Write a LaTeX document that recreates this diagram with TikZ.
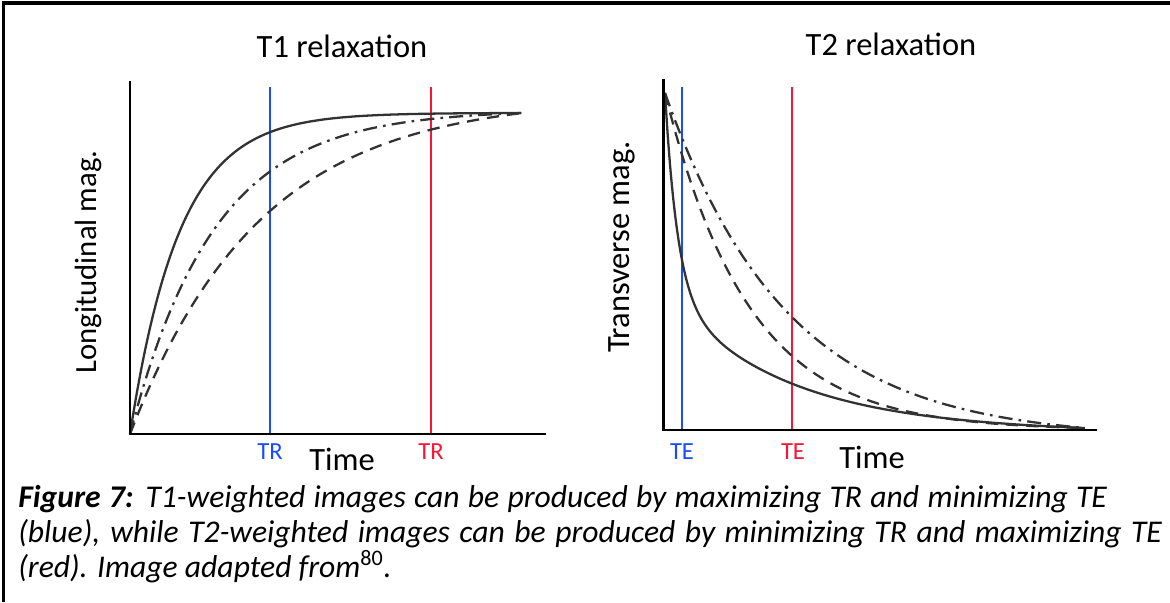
\documentclass[tikz,border=0pt]{standalone}
\usepackage{fontspec}
\setmainfont{Carlito}
\usetikzlibrary{positioning}

\definecolor{trblue}{RGB}{25,75,255}
\definecolor{trred}{RGB}{250,20,55}
\definecolor{curvegray}{RGB}{50,50,50}

\begin{document}
\begin{tikzpicture}[x=0.02cm,y=-0.02cm,
    axis/.style={line width=1.7pt,black,line cap=rect},
    timeline/.style={line width=1.4pt},
    relax/.style={line width=1.3pt,curvegray,line join=round},
    dashcurve/.style={relax,dash pattern=on 7pt off 4.5pt},
    dotcurve/.style={relax,dash pattern=on 8pt off 3.5pt on 1.5pt off 3.5pt},
    heading/.style={font=\fontsize{18.5}{20}\selectfont,anchor=base},
    axlabel/.style={font=\fontsize{18.5}{20}\selectfont},
    ticklabel/.style={font=\fontsize{14}{16}\selectfont,anchor=base},
    captionline/.style={font=\fontsize{18}{22}\selectfont\itshape,anchor=base west,inner sep=0pt}]
  \useasboundingbox (0,0) rectangle (1170,602);
  % frame (top and left only)
  \draw[line width=2.2pt] (3.5,602) -- (3.5,3) -- (1170,3);

  % ---- T1 relaxation ----
  \coordinate (o1) at (130,434);
  \coordinate (y1) at (130,82);
  \coordinate (x1) at (545,434);
  \node[heading] (t1) at (342,57) {T1 relaxation};
  \draw[timeline,trblue] (270,87) coordinate (tr1) -- (tr1 |- o1);
  \draw[timeline,trred] (431,87) coordinate (tr2) -- (tr2 |- o1);
  \draw[relax] plot[domain=0:1,samples=120,smooth]
    ({130+392*\x},{434-321*(1-exp(-\x/0.127))/(1-exp(-1/0.127))});
  \draw[dotcurve] plot[domain=0:1,samples=120,smooth]
    ({130+392*\x},{434-321*(1-exp(-\x/0.215))/(1-exp(-1/0.215))});
  \draw[dashcurve] plot[domain=0:1,samples=120,smooth]
    ({130+392*\x},{434-321*(1-exp(-\x/0.33))/(1-exp(-1/0.33))});
  \draw[axis] (y1) -- (o1) -- (x1);
  \node[ticklabel,trblue] (trb) at (270,459) {TR};
  \node[ticklabel,trred] (trr) at (431,459) {TR};
  \node[axlabel,anchor=base] (time1) at (342,470) {Time};
  \node[axlabel,rotate=90,font=\fontsize{17.5}{20}\selectfont] (long) at (88,262) {Longitudinal mag.};

  % ---- T2 relaxation ----
  \coordinate (o2) at (663,430);
  \coordinate (y2) at (663,80);
  \coordinate (x2) at (1095,430);
  \node[heading] (t2) at (891,55) {T2 relaxation};
  \draw[timeline,trblue] (682,87) coordinate (te1) -- (te1 |- o2);
  \draw[timeline,trred] (792,87) coordinate (te2) -- (te2 |- o2);
  \draw[relax] plot[domain=0:1,samples=160,smooth]
    ({665+420*\x},{428-335*(0.6*exp(-\x/0.03)+0.4*exp(-\x/0.28)-0.0113*\x)});
  \draw[dashcurve] plot[domain=0:1,samples=120,smooth]
    ({665+420*\x},{428-335*(exp(-\x/0.2)-exp(-1/0.2))/(1-exp(-1/0.2))});
  \draw[dotcurve] plot[domain=0:1,samples=120,smooth]
    ({665+420*\x},{428-335*(exp(-\x/0.29)-exp(-1/0.29))/(1-exp(-1/0.29))});
  \draw[axis] (y2) -- (o2) -- (x2);
  \node[ticklabel,trblue] (teb) at (682,459) {TE};
  \node[ticklabel,trred] (ter) at (793,459) {TE};
  \node[axlabel,anchor=base] (time2) at (872,468) {Time};
  \node[axlabel,rotate=90] (trans) at (622,247) {Transverse mag.};

  % caption, first two lines spread to full width
  \node[captionline] (cap1) at (18,507) {\hbox to 21.78cm{\textbf{Figure 7:} T1-weighted images can be produced by maximizing TR and minimizing TE}};
  \node[captionline] (cap2) at (18,542) {\hbox to 22.88cm{(blue), while T2-weighted images can be produced by minimizing TR and maximizing TE}};
  \node[captionline] (cap3) at (18,577) {(red). Image adapted from\textsuperscript{\upshape 80}.};
\end{tikzpicture}
\end{document}
